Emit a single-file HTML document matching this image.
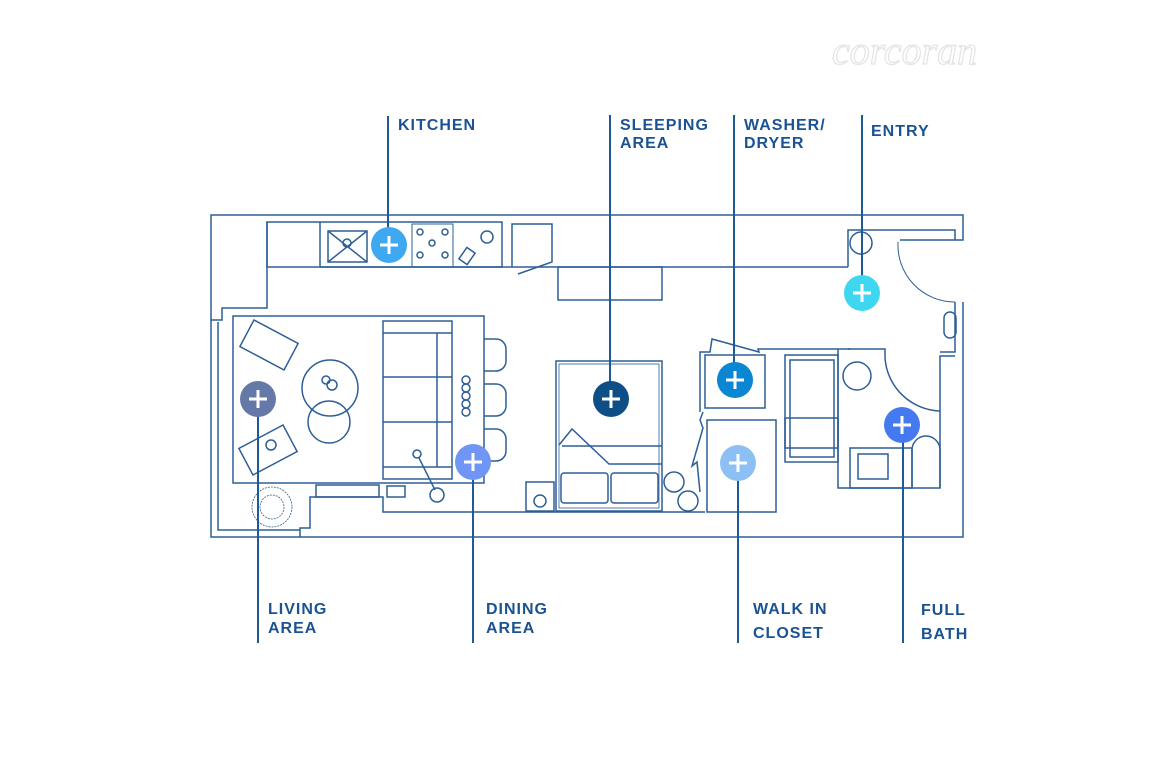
<!DOCTYPE html>
<html><head><meta charset="utf-8"><style>
html,body{margin:0;padding:0;background:#fff;}
svg{display:block}
</style></head><body>
<svg width="1152" height="768" viewBox="0 0 1152 768" xmlns="http://www.w3.org/2000/svg">
<text x="832" y="64" font-family="Liberation Serif, serif" font-style="italic" font-size="40" fill="#fff" stroke="#e4e4e4" stroke-width="1.2">corcoran</text>

<g fill="none" stroke="#2d5f96" stroke-width="1.5">
<polyline points="211,320 211,215 963,215 963,240 900,240"/>
<polyline points="963,302 963,537 211,537 211,320"/>
<polyline points="218,322 218,530 300,530"/>
<polyline points="211,320 222,320 222,308 267,308 267,222"/>
<polyline points="300,537 300,528 310,528 310,497 383,497 383,512 705,512"/>
<line x1="320" y1="267" x2="848" y2="267"/>
<polyline points="848,267 848,230 955,230 955,240"/>
<polyline points="955,302 955,352 940,352"/>
<path d="M898,242 A57,57 0 0 0 955,302" stroke-width="1"/>
<rect x="267" y="222" width="235" height="45"/>
<line x1="320" y1="222" x2="320" y2="267"/>
<rect x="328" y="231" width="39" height="31"/>
<line x1="328" y1="231" x2="367" y2="262"/><line x1="367" y1="231" x2="328" y2="262"/>
<circle cx="347" cy="243" r="4"/>
<rect x="412" y="224" width="41" height="43" stroke-width="1"/>
<circle cx="420" cy="232" r="3"/><circle cx="445" cy="232" r="3"/><circle cx="432" cy="243" r="3"/><circle cx="420" cy="255" r="3"/><circle cx="445" cy="255" r="3"/>
<circle cx="487" cy="237" r="6"/>
<rect x="462" y="249" width="10" height="14" transform="rotate(35 467 256)"/>
<polyline points="512,267 512,224 552,224 552,262 518,274"/>
<rect x="558" y="267" width="104" height="33"/>
<rect x="233" y="316" width="251" height="167"/>
<rect x="383" y="321" width="69" height="158"/>
<line x1="383" y1="333" x2="452" y2="333"/>
<line x1="383" y1="377" x2="452" y2="377"/><line x1="383" y1="422" x2="452" y2="422"/><line x1="383" y1="467" x2="452" y2="467"/>
<line x1="437" y1="333" x2="437" y2="467"/>
<circle cx="330" cy="388" r="28"/><circle cx="329" cy="422" r="21"/>
<circle cx="326" cy="380" r="4"/><circle cx="332" cy="385" r="5"/>
<circle cx="466" cy="380" r="4"/><circle cx="466" cy="388" r="4"/><circle cx="466" cy="396" r="4"/><circle cx="466" cy="404" r="4"/><circle cx="466" cy="412" r="4"/>
<path d="M484,339 h12 a10,10 0 0 1 10,10 v12 a10,10 0 0 1 -10,10 h-12"/>
<path d="M484,384 h12 a10,10 0 0 1 10,10 v12 a10,10 0 0 1 -10,10 h-12"/>
<path d="M484,429 h12 a10,10 0 0 1 10,10 v12 a10,10 0 0 1 -10,10 h-12"/>
<rect x="244" y="330" width="50" height="30" transform="rotate(28 269 345)"/>
<rect x="243" y="435" width="50" height="30" transform="rotate(-28 268 450)"/>
<circle cx="271" cy="445" r="5"/>
<circle cx="417" cy="454" r="4"/><circle cx="437" cy="495" r="7"/><line x1="419" y1="458" x2="435" y2="490"/>
<rect x="316" y="485" width="63" height="12"/>
<rect x="387" y="486" width="18" height="11"/>
<circle cx="272" cy="507" r="20" stroke-width="0.8" stroke-dasharray="2,1"/>
<circle cx="272" cy="507" r="12" stroke-width="0.8" stroke-dasharray="2,1"/>
<rect x="556" y="361" width="106" height="150"/>
<rect x="559" y="364" width="100" height="144" stroke-width="0.8"/>
<polyline points="559,445 572,429 609,464 662,464"/><line x1="562" y1="446" x2="662" y2="446"/>
<rect x="561" y="473" width="47" height="30" rx="3"/><rect x="611" y="473" width="47" height="30" rx="3"/>
<rect x="526" y="482" width="28" height="29"/><circle cx="540" cy="501" r="6"/>
<circle cx="674" cy="482" r="10"/><circle cx="688" cy="501" r="10"/>
<polyline points="700,492 697,462 692,466 703,428 700,420 703,412"/>
<polyline points="700,412 700,352 710,352 712,339 759,352 758,349 850,349"/>
<rect x="705" y="355" width="60" height="53"/>
<rect x="707" y="420" width="69" height="92"/>
<polyline points="848,349 885,349 885,358"/>
<polyline points="838,349 838,488 940,488 940,356 955,356"/>
<rect x="785" y="355" width="53" height="107"/>
<rect x="790" y="360" width="44" height="97"/>
<rect x="785" y="418" width="53" height="30"/>
<circle cx="857" cy="376" r="14"/>
<path d="M885,358 A57,57 0 0 0 940,411"/>
<rect x="850" y="448" width="62" height="40"/><rect x="858" y="454" width="30" height="25"/>
<path d="M912,488 v-38 a14,14 0 0 1 28,0 v38"/>
<rect x="944" y="312" width="12" height="26" rx="6"/>
<circle cx="861" cy="243" r="11"/>
</g>

<g stroke="#1f5a94" stroke-width="2">
<line x1="388" y1="116" x2="388" y2="245"/>
<line x1="610" y1="115" x2="610" y2="399"/>
<line x1="734" y1="115" x2="734" y2="380"/>
<line x1="862" y1="115" x2="862" y2="293"/>
<line x1="258" y1="399" x2="258" y2="643"/>
<line x1="473" y1="462" x2="473" y2="643"/>
<line x1="738" y1="463" x2="738" y2="643"/>
<line x1="903" y1="425" x2="903" y2="643"/>
</g>

<g stroke="#fff" stroke-width="3">
<circle cx="389" cy="245" r="18" fill="#3ea8f0" stroke="none"/>
<circle cx="258" cy="399" r="18" fill="#6479a8" stroke="none"/>
<circle cx="473" cy="462" r="18" fill="#6f96f5" stroke="none"/>
<circle cx="611" cy="399" r="18" fill="#0d4e87" stroke="none"/>
<circle cx="735" cy="380" r="18" fill="#0a86d2" stroke="none"/>
<circle cx="738" cy="463" r="18" fill="#8cc0f5" stroke="none"/>
<circle cx="862" cy="293" r="18" fill="#3fd6f0" stroke="none"/>
<circle cx="902" cy="425" r="18" fill="#4479ef" stroke="none"/>
<path d="M380,245h18M389,236v18 M249,399h18M258,390v18 M464,462h18M473,453v18 M602,399h18M611,390v18 M726,380h18M735,371v18 M729,463h18M738,454v18 M853,293h18M862,284v18 M893,425h18M902,416v18"/>
</g>

<g font-family="Liberation Sans, sans-serif" font-weight="bold" font-size="16" fill="#1b5392" letter-spacing="1">
<text x="398" y="130">KITCHEN</text>
<text x="620" y="130">SLEEPING</text><text x="620" y="148">AREA</text>
<text x="744" y="130">WASHER/</text><text x="744" y="148">DRYER</text>
<text x="871" y="136">ENTRY</text>
<text x="268" y="614">LIVING</text><text x="268" y="633">AREA</text>
<text x="486" y="614">DINING</text><text x="486" y="633">AREA</text>
<text x="753" y="614">WALK IN</text><text x="753" y="638">CLOSET</text>
<text x="921" y="615">FULL</text><text x="921" y="639">BATH</text>
</g>
</svg>
</body></html>
